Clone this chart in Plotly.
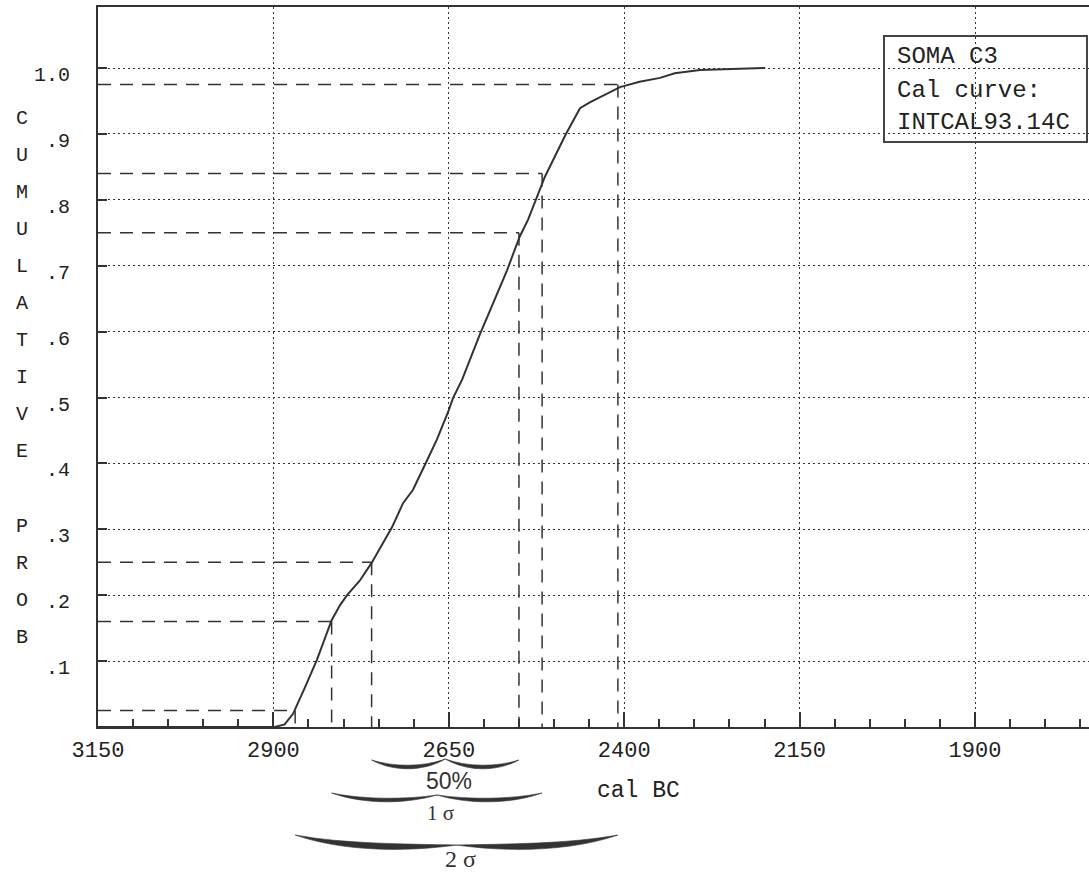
import plotly.graph_objects as go

# ---------------- data ----------------
years = [3150, 2898, 2884, 2872, 2855, 2838, 2817, 2805, 2795, 2777, 2760,
         2731, 2715, 2701, 2684, 2667, 2651, 2644, 2631, 2606, 2567, 2549,
         2537, 2513, 2484, 2463, 2449, 2406, 2378, 2349, 2328, 2292, 2199]
cum_prob = [0, 0, 0.004, 0.02, 0.06, 0.102, 0.162, 0.185, 0.200, 0.222, 0.249,
            0.303, 0.340, 0.360, 0.398, 0.436, 0.478, 0.499, 0.527, 0.595, 0.693, 0.744,
            0.770, 0.835, 0.898, 0.939, 0.948, 0.971, 0.979, 0.985, 0.992, 0.997, 1.0]

pct_levels = [0.025, 0.16, 0.25, 0.75, 0.84, 0.975]
pct_years = [2869, 2817, 2760, 2550, 2517, 2409]

x_tickvals = [3150, 2900, 2650, 2400, 2150, 1900]
y_tickvals = [0.1, 0.2, 0.3, 0.4, 0.5, 0.6, 0.7, 0.8, 0.9, 1.0]
y_ticktext = [".1", ".2", ".3", ".4", ".5", ".6", ".7", ".8", ".9", "1.0"]

brace_labels = ["50%", "1 \u03c3", "2 \u03c3"]
brace_from = [2760, 2817, 2869]
brace_to = [2550, 2517, 2409]

legend_lines = ["SOMA C3", "Cal curve:", "INTCAL93.14C"]
y_title = "CUMULATIVE PROB"
x_title = "cal BC"

# ---------------- layout geometry (pixels) ----------------
W, H = 1089, 872
L, T, B, R = 98, 7, 727, 1089
PX_PER_YR = 0.7016
PX_PER_UNIT = 659.0
X_LEFT = 3150
X_RIGHT = X_LEFT - (R - L) / PX_PER_YR
Y_TOP = (B - T) / PX_PER_UNIT

INK = "#333333"
MONO = "Liberation Mono"


def yr2px(yr):
    return L + (X_LEFT - yr) * PX_PER_YR


def pxx(px):
    return (px - L) / (R - L)


def pxy(py):
    return (B - py) / (B - T)


fig = go.Figure()

# cumulative probability curve
fig.add_trace(go.Scatter(x=years, y=cum_prob, mode="lines",
                         line=dict(color=INK, width=2), hoverinfo="skip",
                         showlegend=False))

# percentile dashed guide lines
gx, gy = [], []
for lev, yr in zip(pct_levels, pct_years):
    gx += [X_LEFT, yr, None, yr, yr, None]
    gy += [lev, lev, None, lev, 0, None]
fig.add_trace(go.Scatter(x=gx, y=gy, mode="lines",
                         line=dict(color=INK, width=1.5, dash="13px,9px"),
                         hoverinfo="skip", showlegend=False))

shapes = []
annotations = []

# legend box
shapes.append(dict(type="rect", xref="paper", yref="paper",
                   x0=pxx(884), x1=pxx(1087), y0=pxy(142), y1=pxy(36),
                   line=dict(color="#444444", width=2), fillcolor="rgba(0,0,0,0)"))
for i, txt in enumerate(legend_lines):
    annotations.append(dict(text=txt, xref="paper", yref="paper",
                            x=pxx(895), y=pxy(57 + 33 * i),
                            xanchor="left", yanchor="middle", showarrow=False,
                            font=dict(family=MONO, size=24, color="#222222")))

# vertical y-axis title, one letter per line
for i, ch in enumerate(y_title):
    if ch == " ":
        continue
    annotations.append(dict(text=ch, xref="paper", yref="paper",
                            x=pxx(22), y=pxy(118 + 37.1 * i),
                            xanchor="center", yanchor="middle", showarrow=False,
                            font=dict(family=MONO, size=20, color="#222222")))

# x title
annotations.append(dict(text=x_title, xref="paper", yref="paper",
                        x=pxx(638), y=pxy(791), xanchor="center", yanchor="middle",
                        showarrow=False, font=dict(family=MONO, size=23, color="#222222")))


# braces under the axis
def brace_path(x0, x1, ye, ybot, yn, t):
    xm = (x0 + x1) / 2.0
    c = (ybot - 0.125 * (ye + yn)) / 0.75

    def P(x, y):
        return "%.5f,%.5f" % (pxx(x), pxy(y))

    d = ""
    for a, s in ((x0, 1), (x1, -1)):
        h = abs(xm - a)
        ca = a + s * 0.3 * h
        cm = xm - s * 0.3 * h
        d += ("M" + P(a, ye) + " C" + P(ca, c - t) + " " + P(cm, c - t) + " " + P(xm, yn) +
              " C" + P(cm, c + t) + " " + P(ca, c + t) + " " + P(a, ye) + " Z ")
    return d


brace_geom = [  # ends y, bottom y, notch y, half-thickness, label y, label size, font
    (760, 767, 759, 2.4, 781, 23, "Liberation Sans"),
    (793, 800, 795, 2.4, 813, 21, "Liberation Serif"),
    (835, 846, 845, 4.0, 859, 24, "Liberation Serif"),
]
for lab, a, b, g in zip(brace_labels, brace_from, brace_to, brace_geom):
    ye, yb, yn, t, ly, fs, fam = g
    x0, x1 = yr2px(a), yr2px(b)
    shapes.append(dict(type="path", xref="paper", yref="paper",
                       path=brace_path(x0, x1, ye, yb, yn, t),
                       fillcolor=INK, line=dict(color=INK, width=0.6)))
    annotations.append(dict(text=lab, xref="paper", yref="paper",
                            x=pxx((x0 + x1) / 2.0 + 4), y=pxy(ly),
                            xanchor="center", yanchor="middle", showarrow=False,
                            font=dict(family=fam, size=fs, color=INK)))

fig.update_layout(
    width=W, height=H,
    margin=dict(l=L, r=W - R, t=T, b=H - B, pad=0),
    paper_bgcolor="white", plot_bgcolor="white",
    showlegend=False,
    shapes=shapes, annotations=annotations,
    xaxis=dict(range=[X_LEFT, X_RIGHT], tickmode="linear", tick0=X_LEFT, dtick=250,
               ticks="inside", ticklen=15, tickwidth=2, tickcolor=INK,
               minor=dict(tickmode="linear", tick0=X_LEFT, dtick=50, ticks="inside",
                          ticklen=8, tickwidth=1.5, tickcolor=INK, showgrid=False),
               showgrid=True, gridcolor=INK, gridwidth=1.3, griddash="2px,3px",
               showline=True, linecolor=INK, linewidth=2, mirror=True,
               zeroline=False, ticklabelstandoff=2,
               tickfont=dict(family=MONO, size=22, color="#222222")),
    yaxis=dict(range=[0, Y_TOP], tickmode="array", tickvals=y_tickvals, ticktext=y_ticktext,
               ticks="inside", ticklen=9, tickwidth=2, tickcolor=INK,
               showgrid=True, gridcolor=INK, gridwidth=1.3, griddash="2px,3px",
               showline=True, linecolor=INK, linewidth=2, mirror=False,
               zeroline=False, ticklabelstandoff=22, ticklabelshift=6,
               tickfont=dict(family=MONO, size=20, color="#222222")),
)

fig.write_html("out.html", config={"displayModeBar": False},
               post_script="document.body.style.margin='0px';document.body.style.overflow='hidden';")
